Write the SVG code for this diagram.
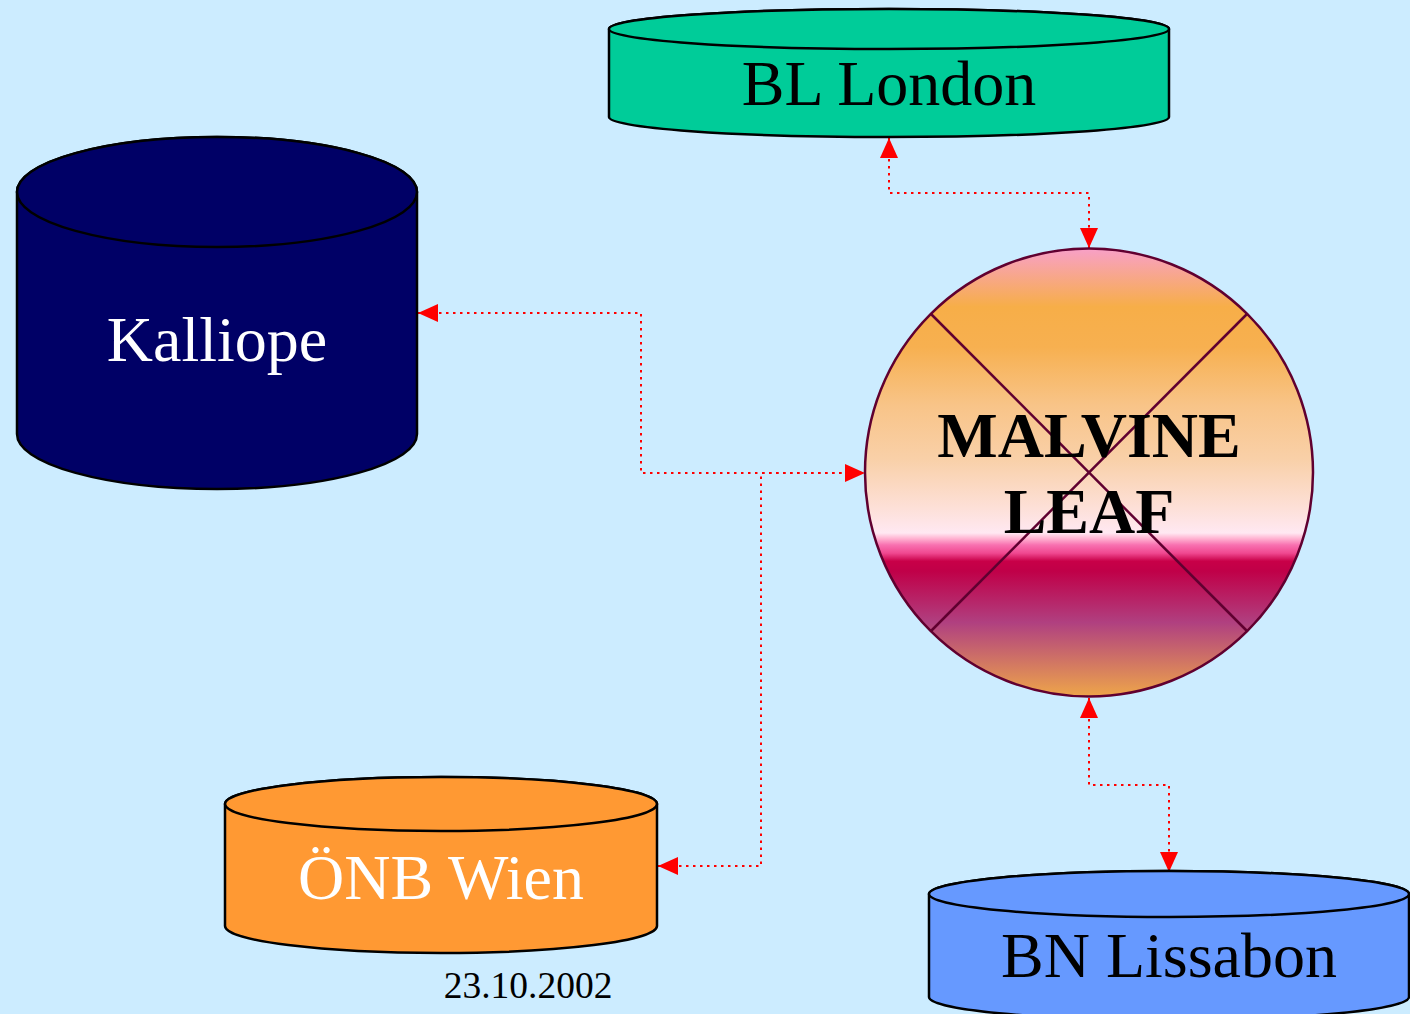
<svg xmlns="http://www.w3.org/2000/svg" width="1410" height="1014" viewBox="0 0 1410 1014">
<style>
.cyl{stroke:#000;stroke-width:2.5}
.lbl{font-family:"Liberation Serif","Times New Roman",serif;font-size:64px;text-anchor:middle}
.conn{fill:none;stroke:#ff0000;stroke-width:2;stroke-dasharray:2.5 4.5}
</style>
<defs>
<marker id="arr" viewBox="0 0 20 18" refX="20" refY="9" markerUnits="userSpaceOnUse" markerWidth="20" markerHeight="18" orient="auto-start-reverse">
<path d="M0,0 L20,9 L0,18 Z" fill="#ff0000"/>
</marker>
<linearGradient id="leafGrad" x1="0" y1="0" x2="0" y2="1">
<stop offset="0" stop-color="#f8a0c8"/>
<stop offset="0.13" stop-color="#f7ae48"/>
<stop offset="0.22" stop-color="#f7b050"/>
<stop offset="0.35" stop-color="#f8c488"/>
<stop offset="0.47" stop-color="#f9d0a8"/>
<stop offset="0.58" stop-color="#fde0d8"/>
<stop offset="0.635" stop-color="#ffe8f2"/>
<stop offset="0.648" stop-color="#ffb0d0"/>
<stop offset="0.662" stop-color="#f870b0"/>
<stop offset="0.68" stop-color="#f04890"/>
<stop offset="0.698" stop-color="#c80048"/>
<stop offset="0.72" stop-color="#c00048"/>
<stop offset="0.835" stop-color="#b04080"/>
<stop offset="1" stop-color="#eea54a"/>
</linearGradient>
</defs>
<rect width="1410" height="1014" fill="#ccecff"/>

<g id="connectors">
<path class="conn" d="M889,138 V193 H1089 V248" marker-start="url(#arr)" marker-end="url(#arr)"/>
<path class="conn" d="M418,313 H641 V473 H865" marker-start="url(#arr)" marker-end="url(#arr)"/>
<path class="conn" d="M658,866 H761 V473 H847" marker-start="url(#arr)"/>
<path class="conn" d="M1089,698 V785 H1169 V872" marker-start="url(#arr)" marker-end="url(#arr)"/>
</g>

<g id="bl-london">
<path class="cyl" fill="#00cc99" d="M609,29 V117 A280,20 0 0 0 1169,117 V29 A280,20 0 0 0 609,29 Z"/>
<ellipse class="cyl" fill="#00cc99" cx="889" cy="29" rx="280" ry="20"/>
<text class="lbl" x="889" y="105" fill="#000">BL London</text>
</g>

<g id="kalliope">
<path class="cyl" fill="#000066" d="M17,192 V434 A200,55 0 0 0 417,434 V192 A200,55 0 0 0 17,192 Z"/>
<ellipse class="cyl" fill="#000066" cx="217" cy="192" rx="200" ry="55"/>
<text class="lbl" x="217" y="361" fill="#fff">Kalliope</text>
</g>

<g id="onb-wien">
<path class="cyl" fill="#ff9933" d="M225,804 V926 A216,27 0 0 0 657,926 V804 A216,27 0 0 0 225,804 Z"/>
<ellipse class="cyl" fill="#ff9933" cx="441" cy="804" rx="216" ry="27"/>
<text class="lbl" x="441" y="899" fill="#fff">ÖNB Wien</text>
</g>

<g id="bn-lissabon">
<path class="cyl" fill="#6699ff" d="M929,894 V997 A240,23 0 0 0 1409,997 V894 A240,23 0 0 0 929,894 Z"/>
<ellipse class="cyl" fill="#6699ff" cx="1169" cy="894" rx="240" ry="23"/>
<text class="lbl" x="1169" y="977" fill="#000">BN Lissabon</text>
</g>

<g id="malvine-leaf">
<circle cx="1089" cy="472.5" r="224" fill="url(#leafGrad)" stroke="#600030" stroke-width="2.5"/>
<line x1="931" y1="314" x2="1247" y2="631" stroke="#600030" stroke-width="2.5"/>
<line x1="1247" y1="314" x2="931" y2="631" stroke="#600030" stroke-width="2.5"/>
<text class="lbl" x="1089" y="457" fill="#000" font-weight="bold">MALVINE</text>
<text class="lbl" x="1089" y="533" fill="#000" font-weight="bold">LEAF</text>
</g>

<g id="date">
<text x="528" y="998" font-family="'Liberation Serif','Times New Roman',serif" font-size="37.5" text-anchor="middle" fill="#000">23.10.2002</text>
</g>
</svg>
